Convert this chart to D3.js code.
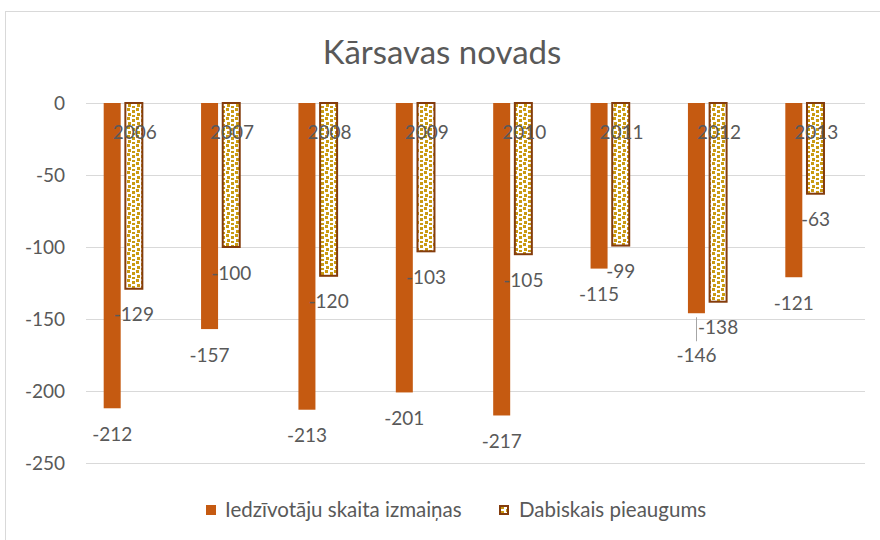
<!DOCTYPE html>
<html>
<head>
<meta charset="utf-8">
<script src="https://cdn.jsdelivr.net/npm/d3@7/dist/d3.min.js"></script>
<style>
  body { margin: 0; background: #fff; }
  svg text { font-family: Lato, "Open Sans", sans-serif; fill: #595959; }
</style>
</head>
<body>
<svg id="chart" width="880" height="540"></svg>
<script>
// data
const years = ["2006", "2007", "2008", "2009", "2010", "2011", "2012", "2013"]
const populationChange = [-212, -157, -213, -201, -217, -115, -146, -121]
const naturalGrowth = [-129, -100, -120, -103, -105, -99, -138, -63]
const seriesNames = ["Iedzīvotāju skaita izmaiņas", "Dabiskais pieaugums"]
const yTicks = [0, -50, -100, -150, -200, -250]

const CONFIG = {
    left: 86,
    right: 865,
    top: 103,
    bottom: 463,
    barWidth: 17,
    orange: "#C55A11",
    brown: "#843C0C",
    gold: "#C99A12",
    grid: "#D9D9D9",
    labelGap: 26,
}

const svg = d3.select("#chart")

// outer chart border
svg.append("rect")
    .attr("x", 5.5).attr("y", 11.5)
    .attr("width", 880).attr("height", 540)
    .attr("fill", "none")
    .attr("stroke", CONFIG.grid)

// pattern for the second series
const defs = svg.append("defs")
const pat = defs.append("pattern")
    .attr("id", "confetti")
    .attr("patternUnits", "userSpaceOnUse")
    .attr("width", 9).attr("height", 9)
pat.append("rect").attr("width", 9).attr("height", 9).attr("fill", "#fff")
const dots = [[1, 0], [6, 2], [2, 5], [6, 7]]
pat.selectAll("rect.dot")
    .data(dots)
    .enter().append("rect")
    .attr("class", "dot")
    .attr("x", d => d[0]).attr("y", d => d[1])
    .attr("width", 3).attr("height", 3)
    .attr("fill", CONFIG.gold)

const x = d3.scaleBand()
    .domain(years)
    .range([CONFIG.left, CONFIG.right])

const y = d3.scaleLinear()
    .domain([0, -250])
    .range([CONFIG.top, CONFIG.bottom])

// gridlines
svg.selectAll(".grid")
    .data(yTicks)
    .enter().append("line")
    .attr("x1", CONFIG.left).attr("x2", CONFIG.right)
    .attr("y1", d => Math.round(y(d)) + 0.5)
    .attr("y2", d => Math.round(y(d)) + 0.5)
    .attr("stroke", CONFIG.grid)

// y axis labels
svg.selectAll(".ytick")
    .data(yTicks)
    .enter().append("text")
    .attr("x", 65)
    .attr("y", d => y(d))
    .attr("dy", "0.35em")
    .attr("text-anchor", "end")
    .attr("font-size", 19)
    .text(d => d)

// sub slots: two series and one empty slot, group centred on category
const slot = d3.scaleBand()
    .domain([0, 1, 2])
    .range([-31, 31])

const cx = d => x(d) + x.bandwidth() / 2

// orange bars
svg.selectAll(".bar1")
    .data(years)
    .enter().append("rect")
    .attr("x", (d, i) => cx(d) + slot(0))
    .attr("y", y(0))
    .attr("width", CONFIG.barWidth)
    .attr("height", (d, i) => y(populationChange[i]) - y(0))
    .attr("fill", CONFIG.orange)

// patterned bars
svg.selectAll(".bar2")
    .data(years)
    .enter().append("rect")
    .attr("x", (d, i) => cx(d) + slot(1) + 1)
    .attr("y", y(0))
    .attr("width", CONFIG.barWidth)
    .attr("height", (d, i) => y(naturalGrowth[i]) - y(0))
    .attr("fill", "url(#confetti)")
    .attr("stroke", CONFIG.brown)
    .attr("stroke-width", 2)

// category labels, drawn over the bars
svg.selectAll(".xtick")
    .data(years)
    .enter().append("text")
    .attr("x", d => cx(d))
    .attr("y", y(0) + 29)
    .attr("dy", "0.35em")
    .attr("text-anchor", "middle")
    .attr("font-size", 19)
    .text(d => d)

// one label was pushed down to avoid overlap, with a leader line
const movedLabel = { series: 0, year: "2012", shift: 16 }

// data labels
function drawLabels(values, s) {
    svg.selectAll(".lab" + s)
        .data(years)
        .enter().append("text")
        .attr("x", d => cx(d) + slot(s) + (s ? 1 : 0) + CONFIG.barWidth / 2)
        .attr("y", (d, i) => {
            let py = y(values[i]) + CONFIG.labelGap
            if (movedLabel.series === s && movedLabel.year === d) py += movedLabel.shift
            return py
        })
        .attr("dy", "0.35em")
        .attr("text-anchor", "middle")
        .attr("font-size", 19)
        .text((d, i) => values[i])
}
drawLabels(populationChange, 0)
drawLabels(naturalGrowth, 1)

const mi = years.indexOf(movedLabel.year)
const mx = Math.round(cx(movedLabel.year) + slot(0) + CONFIG.barWidth / 2) + 0.5
svg.append("line")
    .attr("x1", mx).attr("x2", mx)
    .attr("y1", y(populationChange[mi]) + 4)
    .attr("y2", y(populationChange[mi]) + CONFIG.labelGap + movedLabel.shift - 14)
    .attr("stroke", "#A6A6A6")

// title
svg.append("text")
    .attr("x", 442)
    .attr("y", 52)
    .attr("dy", "0.35em")
    .attr("text-anchor", "middle")
    .attr("font-size", 33)
    .text("Kārsavas novads")

// legend
const legend = [
    { name: seriesNames[0], x: 206, textX: 225, fill: CONFIG.orange, stroke: "none" },
    { name: seriesNames[1], x: 499, textX: 519, fill: "url(#confetti)", stroke: CONFIG.brown },
]
const lg = svg.selectAll(".legend")
    .data(legend)
    .enter().append("g")
lg.append("rect")
    .attr("x", d => d.x + (d.stroke === "none" ? 0 : 1))
    .attr("y", d => 505 + (d.stroke === "none" ? 0 : 1))
    .attr("width", d => d.stroke === "none" ? 10 : 8)
    .attr("height", d => d.stroke === "none" ? 10 : 8)
    .attr("fill", d => d.fill)
    .attr("stroke", d => d.stroke)
    .attr("stroke-width", 2)
lg.append("text")
    .attr("x", d => d.textX)
    .attr("y", 510)
    .attr("dy", "0.35em")
    .attr("font-size", 20.5)
    .text(d => d.name)
</script>
</body>
</html>
